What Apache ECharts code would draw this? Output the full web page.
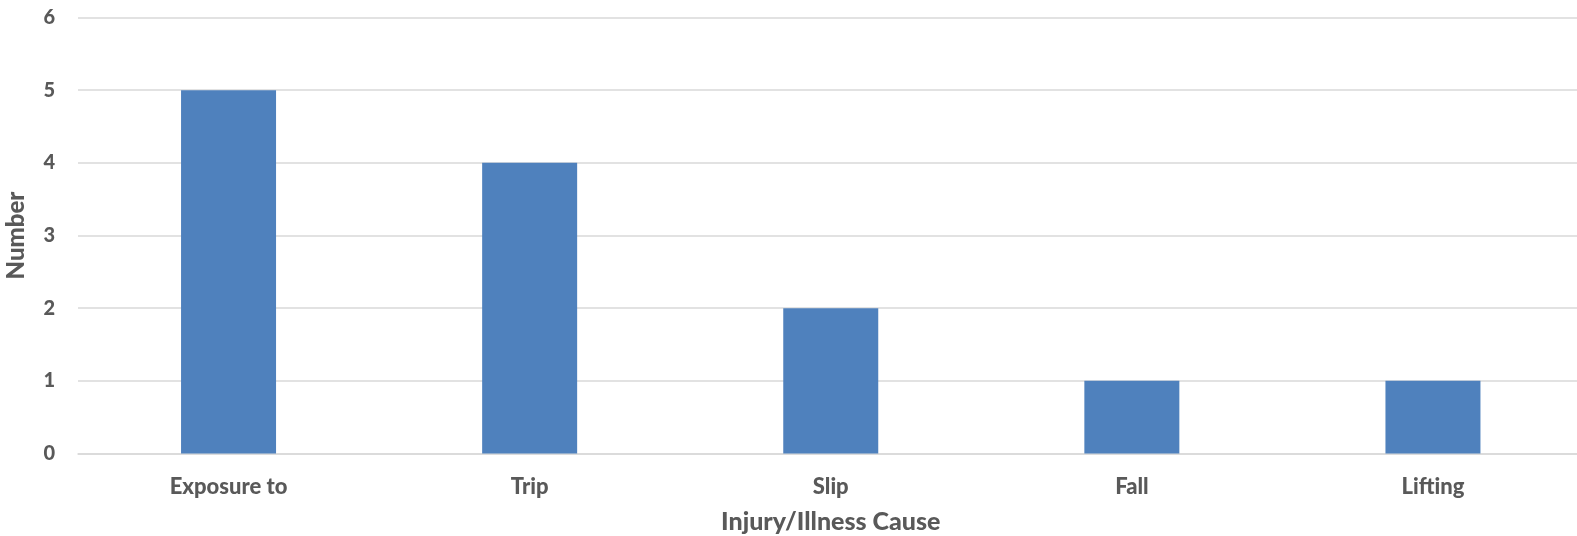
<!DOCTYPE html>
<html><head><meta charset="utf-8">
<script src="https://cdn.jsdelivr.net/npm/echarts@6/dist/echarts.min.js"></script>
<style>html,body{margin:0;padding:0;background:#fff}#c{width:1577px;height:536px}</style>
</head><body><div id="c"></div>
<script>
const categories = ["Exposure to", "Trip", "Slip", "Fall", "Lifting"];
const values = [5, 4, 2, 1, 1];
const yTicks = [0, 1, 2, 3, 4, 5, 6];
const xTitle = "Injury/Illness Cause";
const yTitle = "Number";

const font = "Lato";
const grey = "#595959";
const chart = echarts.init(document.getElementById('c'), null, {renderer: 'canvas'});
chart.setOption({
  animation: false,
  grid: {left: 78, right: -6.5, top: 17.5, bottom: 82.5, containLabel: false, outerBoundsMode: 'none'},
  xAxis: {
    type: 'category', data: categories,
    axisLine: {lineStyle: {color: '#d9d9d9', width: 1.5}},
    axisTick: {show: false},
    axisLabel: {color: grey, fontFamily: font, fontWeight: 900, fontSize: 22, margin: 22},
    name: xTitle, nameLocation: 'middle', nameGap: 56,
    nameTextStyle: {color: grey, fontFamily: font, fontWeight: 900, fontSize: 25}
  },
  yAxis: {
    type: 'value', min: yTicks[0], max: yTicks[yTicks.length - 1], interval: 1,
    axisLine: {show: false}, axisTick: {show: false},
    splitLine: {lineStyle: {color: '#d9d9d9', width: 1.5}},
    axisLabel: {color: grey, fontFamily: font, fontWeight: 900, fontSize: 20, margin: 23},
    name: yTitle, nameLocation: 'middle', nameGap: 50, nameRotate: 90,
    nameTextStyle: {color: grey, fontFamily: font, fontWeight: 900, fontSize: 24}
  },
  series: [{
    type: 'bar', data: values, barWidth: 95,
    itemStyle: {color: '#4f81bd'}
  }]
});
</script></body></html>
